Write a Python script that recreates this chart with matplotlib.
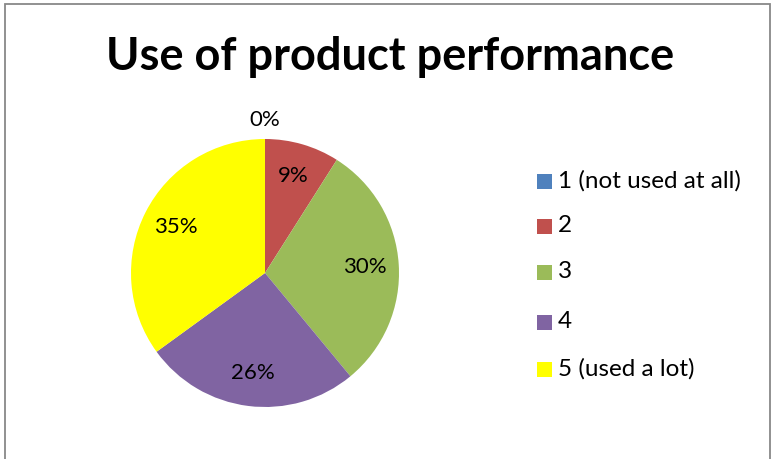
import numpy as np
import matplotlib.pyplot as plt
from matplotlib.patches import Rectangle

categories = ["1 (not used at all)", "2", "3", "4", "5 (used a lot)"]
values = [0, 9, 30, 26, 35]
colors = ["#4F81BD", "#C0504D", "#9BBB59", "#8064A2", "#FFFF00"]
title = "Use of product performance"

plt.rcParams['font.family'] = ['Lato', 'DejaVu Sans']

W, H = 774, 459
fig = plt.figure(figsize=(W / 100, H / 100), dpi=100)
fig.patch.set_facecolor("white")

# outer chart frame
fig.patches.append(Rectangle((4.5 / W, -0.05), (770 - 4.5) / W, (H - 3.5) / H + 0.05,
                             transform=fig.transFigure, fill=False,
                             edgecolor="#888888", linewidth=1.3))

fig.text(390 / W, 1 - 57 / H, title, ha="center", va="center",
         fontsize=32.5, fontweight="bold")

# pie axes: center (265, 273), radius 134 px
R = 134
cx, cy = 265, 273
ax = fig.add_axes([(cx - R) / W, 1 - (cy + R) / H, 2 * R / W, 2 * R / H])
wedges, _ = ax.pie(values, colors=colors, startangle=90, counterclock=False,
                   radius=1.0, wedgeprops=dict(linewidth=0))
ax.set_xlim(-1, 1)
ax.set_ylim(-1, 1)
ax.set_aspect("equal")
ax.axis("off")

total = sum(values)
cum = 0
for v in values:
    mid = (cum + v / 2) / total * 2 * np.pi
    cum += v
    r = 1.14 if v == 0 else 0.75
    x, y = r * np.sin(mid), r * np.cos(mid)
    ax.text(x, y, f"{round(v / total * 100)}%", ha="center", va="center",
            fontsize=16, clip_on=False)

# legend
row_y = [181, 226, 272, 322, 369]
for lab, col, yy in zip(categories, colors, row_y):
    fig.patches.append(Rectangle((537 / W, 1 - (yy + 7.5) / H), 15 / W, 15 / H,
                                 transform=fig.transFigure, facecolor=col,
                                 edgecolor="none"))
    fig.text(558 / W, 1 - yy / H, lab, ha="left", va="center", fontsize=17.5)

fig.savefig("out.png", dpi=100, facecolor="white")
